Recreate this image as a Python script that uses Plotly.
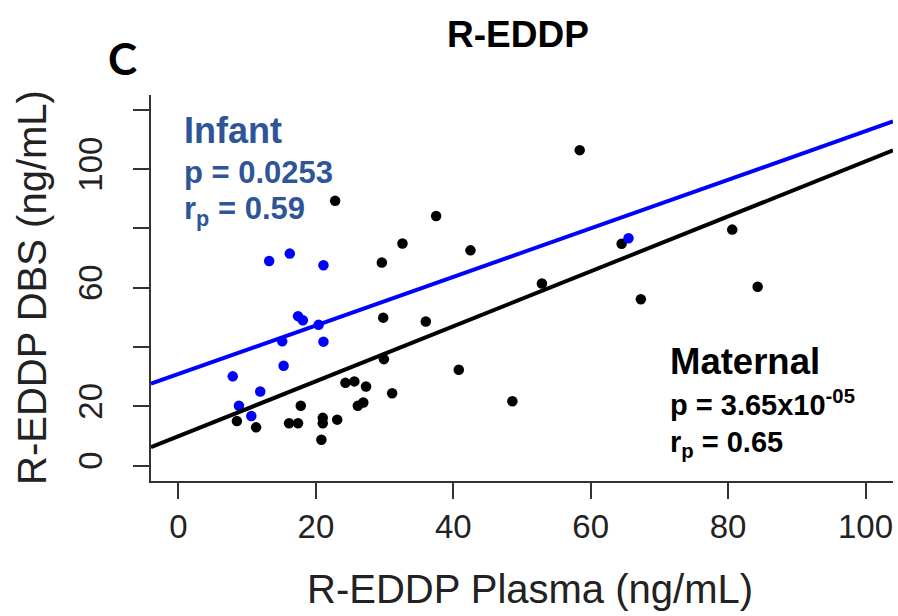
import plotly.graph_objects as go

# maternal (black) and infant (blue) R-EDDP, plasma vs DBS (ng/mL)
maternal_plasma = [22.8, 37.5, 32.6, 29.6, 42.5, 29.8, 36.0, 58.4, 52.9, 64.5, 80.6, 84.3, 67.3, 40.8, 48.6,
                   29.9, 31.1, 24.3, 25.6, 27.3, 26.1, 26.9, 23.1, 21.0, 21.0, 20.8, 17.8, 16.1, 17.4, 8.5, 11.3]
maternal_dbs = [89.3, 84.2, 74.9, 68.5, 72.6, 49.9, 48.6, 106.4, 61.4, 74.8, 79.6, 60.3, 56.1, 32.3, 21.7,
                35.9, 24.4, 27.9, 28.4, 26.7, 20.2, 21.3, 15.5, 16.1, 14.3, 8.7, 20.2, 14.3, 14.3, 15.0, 12.9]

infant_plasma = [13.2, 16.2, 21.1, 17.4, 18.1, 20.4, 21.1, 15.1, 15.3, 7.9, 11.9, 8.8, 10.6, 65.5]
infant_dbs = [69.0, 71.5, 67.6, 50.4, 49.0, 47.5, 41.8, 41.9, 33.7, 30.1, 25.0, 20.2, 16.7, 76.7]

# regression lines (intercept, slope)
maternal_fit = (9.9, 0.927)
infant_fit = (30.9, 0.819)

x_ticks = [0, 20, 40, 60, 80, 100]
y_ticks = [0, 20, 60, 100]          # labelled (R drops the overlapping ones)
y_ticks_unlabelled = [40, 80, 120]

XR = [-4, 104]
YR = [-5.2, 125]

W, H = 898, 616
L, R, T, B = 151, 5, 95, 135
pw, ph = W - L - R, H - T - B


def px(x, y):
    # page pixel -> paper coords
    return (x - L) / pw, (H - B - y) / ph


FONT = "Liberation Sans, Arial, sans-serif"
BLUE_TXT = "#2E5597"

fig = go.Figure()
fig.add_trace(go.Scatter(x=maternal_plasma, y=maternal_dbs, mode="markers",
                         marker=dict(color="black", size=10.5)))
fig.add_trace(go.Scatter(x=infant_plasma, y=infant_dbs, mode="markers",
                         marker=dict(color="#0000FF", size=10.5)))
for (a, b), col in [(maternal_fit, "black"), (infant_fit, "#0000FF")]:
    fig.add_trace(go.Scatter(x=XR, y=[a + b * XR[0], a + b * XR[1]], mode="lines",
                             line=dict(color=col, width=4)))

fig.update_xaxes(range=XR, tickvals=x_ticks, ticks="outside", ticklen=16, tickwidth=1.5,
                 tickcolor="#333", showline=True, linecolor="#333", linewidth=1.8,
                 showgrid=False, zeroline=False, ticklabelstandoff=-1,
                 tickfont=dict(family=FONT, size=33, color="#222"))
fig.update_yaxes(range=YR, tickvals=y_ticks, ticks="outside",
                 ticklen=16, tickwidth=1.5, tickcolor="#333", showline=True,
                 linecolor="#333", linewidth=1.8, showgrid=False, zeroline=False,
                 tickangle=-90, ticklabelstandoff=18,
                 minor=dict(tickvals=y_ticks_unlabelled, ticks="outside", ticklen=16,
                            tickwidth=1.5, tickcolor="#333", showgrid=False),
                 tickfont=dict(family=FONT, size=33, color="#222"))

ann = [
    ("R-EDDP", 518, 34, 37, "black", "center", 0, True),
    ("C", 122, 58, 44, "black", "center", 0, True),
    ("R-EDDP Plasma (ng/mL)", 530, 589, 40, "#222", "center", 0, False),
    ("R-EDDP DBS (ng/mL)", 32, 288, 40, "#222", "center", -90, False),
    ("Infant", 182, 130, 36, BLUE_TXT, "left", 0, True),
    ("p = 0.0253", 182, 172, 31, BLUE_TXT, "left", 0, True),
    ("r<sub>p</sub> = 0.59", 182, 211, 31, BLUE_TXT, "left", 0, True),
    ("Maternal", 668, 361, 36.5, "black", "left", 0, True),
    ("p = 3.65x10<sup>-05</sup>", 668, 403, 29, "black", "left", 0, True),
    ("r<sub>p</sub> = 0.65", 668, 444, 29, "black", "left", 0, True),
]
for text, x, y, size, col, anchor, ang, bold in ann:
    ax, ay = px(x, y)
    fig.add_annotation(x=ax, y=ay, xref="paper", yref="paper", text=text, showarrow=False,
                       xanchor=anchor, yanchor="middle", textangle=ang,
                       font=dict(family="Lato" if text == "C" else FONT, size=size, color=col,
                                 weight="bold" if bold else "normal"))

fig.update_layout(width=W, height=H, margin=dict(l=L, r=R, t=T, b=B),
                  plot_bgcolor="white", paper_bgcolor="white", showlegend=False)
fig.write_html("out.html", config={"displayModeBar": False},
               post_script="document.body.style.margin='0';")
